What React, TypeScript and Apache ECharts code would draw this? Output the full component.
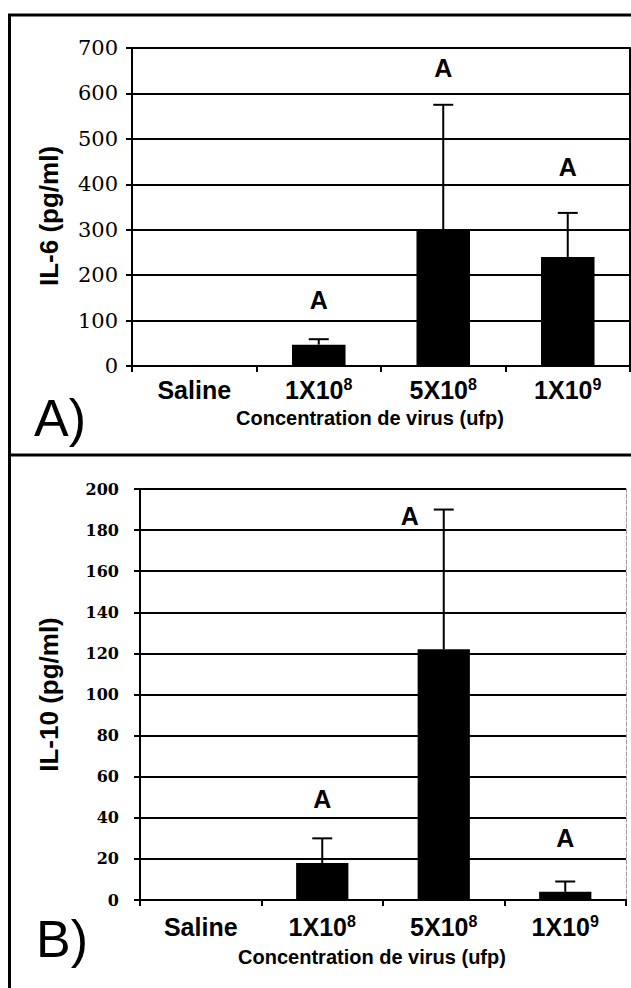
import React, { useEffect, useRef } from "react";
import * as echarts from "echarts";

// ---- data ----
const categories = ["Saline", "1X10^8", "5X10^8", "1X10^9"];
const il6Mean = [0, 47, 300, 240];
const il6ErrUp = [0, 12, 275, 97];
const il6LetterAt = [null, 145, 655, 437];
const il6Ticks = [0, 100, 200, 300, 400, 500, 600, 700];
const il10Mean = [0, 18, 122, 4];
const il10ErrUp = [0, 12, 68, 5];
const il10LetterAt = [null, 49, 187, 30];
const il10Ticks = [0, 20, 40, 60, 80, 100, 120, 140, 160, 180, 200];
const letters = ["", "A", "A", "A"];
const panelTags = ["A)", "B)"];
const yNames = ["IL-6 (pg/ml)", "IL-10 (pg/ml)"];
const xName = "Concentration de virus (ufp)";

const SANS = "Liberation Sans";
const SERIF = "DejaVu Serif";

function catFormatter(v: string) {
  const m = v.match(/^(.*)\^(\d+)$/);
  if (!m) return "{b|" + v + "}";
  return "{b|" + m[1] + "}{s|" + m[2] + "}";
}

export default function App() {
  const ref = useRef<HTMLDivElement>(null);
  useEffect(() => {
    if (!ref.current) return;
    const chart = echarts.init(ref.current, null, { renderer: "svg" });

    const panels = [
      {
        grid: { left: 132, top: 48, width: 498, height: 318 },
        ticks: il6Ticks,
        mean: il6Mean,
        err: il6ErrUp,
        letterAt: il6LetterAt,
        letterShift: [0, 0, 0, 0],
        yLabelFont: { fontFamily: SERIF, fontSize: 21, fontWeight: "normal" as const },
        yLabelMargin: 14,
        yNameGap: 70,
        yNamePad: [0, 18, 0, 0],
        xLabelMargin: 10,
        xNameGap: 42,
      },
      {
        grid: { left: 140, top: 489, width: 486, height: 411 },
        ticks: il10Ticks,
        mean: il10Mean,
        err: il10ErrUp,
        letterAt: il10LetterAt,
        letterShift: [0, 0, -34, 0],
        yLabelFont: { fontFamily: SERIF, fontSize: 16, fontWeight: "bold" as const },
        yLabelMargin: 21,
        yNameGap: 78,
        yNamePad: [0, 0, 0, 0],
        xLabelMargin: 13,
        xNameGap: 47,
      },
    ];

    const grids: any[] = [];
    const xAxes: any[] = [];
    const yAxes: any[] = [];
    const series: any[] = [];

    panels.forEach((p, gi) => {
      grids.push({ ...p.grid, containLabel: false });
      xAxes.push({
        type: "category",
        gridIndex: gi,
        data: categories,
        axisLine: { lineStyle: { color: "#000", width: 2 } },
        axisTick: { show: true, length: 6, lineStyle: { color: "#000", width: 2 } },
        axisLabel: {
          margin: p.xLabelMargin,
          formatter: catFormatter,
          rich: {
            b: { fontFamily: SANS, fontSize: 25, fontWeight: "bold", color: "#000", lineHeight: 28 },
            s: { fontFamily: SANS, fontSize: 16, fontWeight: "bold", color: "#000", verticalAlign: "top", lineHeight: 16 },
          },
        },
        name: xName,
        nameLocation: "middle",
        nameGap: p.xNameGap,
        nameTextStyle: { fontFamily: SANS, fontSize: 20, fontWeight: "bold", color: "#000", padding: [0, 22, 0, 0] },
      });
      const tks = p.ticks;
      yAxes.push({
        type: "value",
        gridIndex: gi,
        min: tks[0],
        max: tks[tks.length - 1],
        interval: tks[1] - tks[0],
        axisLine: { show: true, lineStyle: { color: "#000", width: 2 } },
        axisTick: { show: true, length: 6, lineStyle: { color: "#000", width: 2 } },
        axisLabel: { margin: p.yLabelMargin, color: "#000", ...p.yLabelFont },
        splitLine: { show: true, lineStyle: { color: "#000", width: 2 } },
        name: yNames[gi],
        nameLocation: "middle",
        nameGap: p.yNameGap,
        nameTextStyle: { fontFamily: SANS, fontSize: 26, fontWeight: "bold", color: "#000", padding: p.yNamePad },
      });
      yAxes.push({
        type: "value",
        gridIndex: gi,
        position: "right",
        min: tks[0],
        max: tks[tks.length - 1],
        interval: tks[1] - tks[0],
        axisLine: {
          show: true,
          lineStyle: gi === 0 ? { color: "#000", width: 2 } : { color: "#999", width: 1, type: "dashed" },
        },
        axisTick: { show: false },
        axisLabel: { show: false },
        splitLine: { show: false },
      });
      const yIdx = gi * 2;
      series.push({
        type: "bar",
        xAxisIndex: gi,
        yAxisIndex: yIdx,
        data: p.mean,
        barWidth: "43%",
        itemStyle: { color: "#000" },
      });
      series.push({
        type: "custom",
        xAxisIndex: gi,
        yAxisIndex: yIdx,
        data: p.mean.map((m, i) => [i, m, m + p.err[i]]),
        encode: { x: 0, y: [1, 2] },
        z: 5,
        renderItem: (params: any, api: any) => {
          const i = api.value(0);
          const lo = api.value(1);
          const hi = api.value(2);
          if (!(hi > lo)) return null;
          const a = api.coord([i, lo]);
          const b = api.coord([i, hi]);
          const style = { stroke: "#000", lineWidth: 2 };
          return {
            type: "group",
            children: [
              { type: "line", shape: { x1: a[0], y1: a[1], x2: b[0], y2: b[1] }, style },
              { type: "line", shape: { x1: b[0] - 10, y1: b[1], x2: b[0] + 10, y2: b[1] }, style },
            ],
          };
        },
      });
      series.push({
        type: "custom",
        xAxisIndex: gi,
        yAxisIndex: yIdx,
        data: p.letterAt
          .map((v, i) => (v == null ? null : [i, v]))
          .filter((d) => d != null),
        encode: { x: 0, y: 1 },
        z: 6,
        clip: false,
        renderItem: (params: any, api: any) => {
          const i = api.value(0);
          const c = api.coord([i, api.value(1)]);
          return {
            type: "text",
            x: c[0] + p.letterShift[i],
            y: c[1],
            style: {
              text: letters[i],
              fontFamily: SANS,
              fontSize: 25,
              fontWeight: "bold",
              fill: "#000",
              align: "center",
              verticalAlign: "middle",
            },
          };
        },
      });
    });

    chart.setOption({
      animation: false,
      backgroundColor: "#fff",
      grid: grids,
      xAxis: xAxes,
      yAxis: yAxes,
      series,
      graphic: [
        { type: "line", shape: { x1: 8, y1: 15, x2: 631, y2: 15 }, style: { stroke: "#000", lineWidth: 3 } },
        { type: "line", shape: { x1: 9.5, y1: 14, x2: 9.5, y2: 988 }, style: { stroke: "#000", lineWidth: 3 } },
        { type: "line", shape: { x1: 8, y1: 455, x2: 631, y2: 455 }, style: { stroke: "#000", lineWidth: 3 } },
        {
          type: "text",
          x: 60,
          y: 418,
          style: { text: panelTags[0], fontFamily: SANS, fontSize: 52, fill: "#000", align: "center", verticalAlign: "middle" },
        },
        {
          type: "text",
          x: 62,
          y: 939,
          style: { text: panelTags[1], fontFamily: SANS, fontSize: 52, fill: "#000", align: "center", verticalAlign: "middle" },
        },
      ],
    });
    return () => chart.dispose();
  }, []);
  return (
    <div
      ref={ref}
      style={{ position: "fixed", left: 0, top: 0, width: 631, height: 988, background: "#fff" }}
    />
  );
}
